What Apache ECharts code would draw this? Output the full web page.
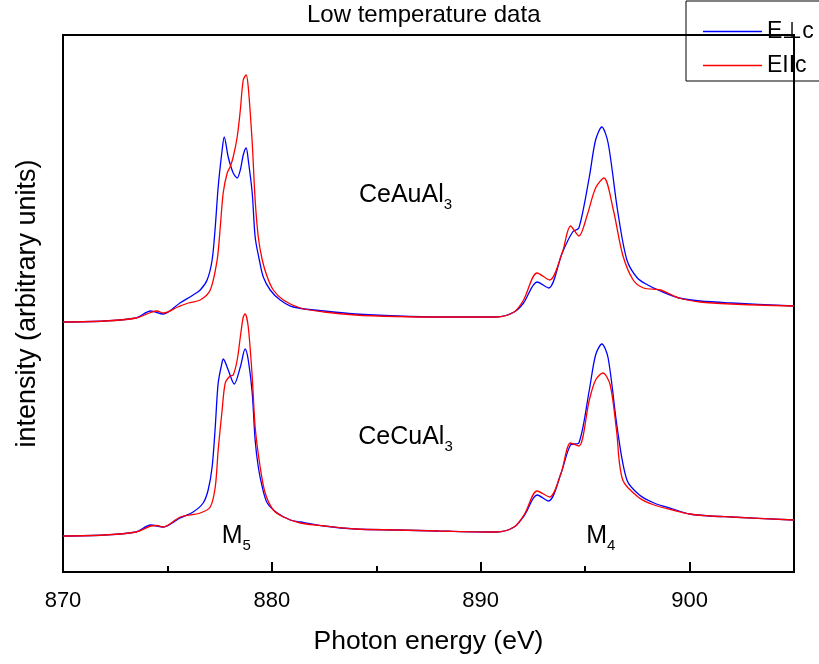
<!DOCTYPE html>
<html>
<head>
<meta charset="utf-8">
<script src="https://cdn.jsdelivr.net/npm/echarts@6/dist/echarts.min.js"></script>
<style>
  html, body { margin: 0; padding: 0; background: #fff; }
  #chart { width: 819px; height: 664px; }
</style>
</head>
<body>
<div id="chart"></div>
<script>
// photon energy (eV) and intensity (arbitrary units)
const auPerpE = [870, 872, 873.5, 874.2, 874.8, 875.6, 876.23, 876.57, 876.9, 877.14, 877.29, 877.43, 877.62, 877.72, 877.91, 878.15, 878.34, 878.49, 878.63, 878.77, 878.87, 879.06, 879.2, 879.4, 879.59, 879.92, 880.4, 881.03, 882.5, 884, 886, 888, 890, 890.75, 891.6, 892.05, 892.7, 893.25, 893.9, 894.4, 894.7, 895.2, 895.5, 895.8, 896.1, 896.55, 897.0, 897.5, 898.0, 898.6, 899.5, 900.5, 902, 905];
const auPerpI = [250, 251, 254, 261, 258, 269, 277, 282, 292, 312, 345, 385, 422, 435, 415, 399, 394, 402, 417, 424, 412, 379, 335, 312, 295, 282, 272, 265, 261, 258, 256, 255, 255, 255, 260, 269, 290, 284, 319, 340, 344, 395, 432, 445, 429, 362, 312, 294, 287, 281, 274, 271, 269, 266];

const auParE = [870, 872, 873.5, 874.2, 874.5, 874.8, 875.5, 876.0, 876.57, 877.05, 877.38, 877.53, 877.67, 877.86, 878.0, 878.15, 878.34, 878.49, 878.63, 878.77, 878.87, 879.06, 879.2, 879.35, 879.54, 879.78, 880.07, 880.55, 881.36, 882.5, 884, 886, 888, 890.75, 891.6, 892.05, 892.7, 893.3, 893.9, 894.3, 894.7, 895.1, 895.5, 895.9, 896.35, 896.8, 897.3, 897.8, 898.6, 899.5, 900.5, 902, 905];
const auParI = [250, 251, 254, 259.5, 261, 259, 265, 269, 272, 282, 312, 345, 379, 399, 405, 415, 435, 462, 492, 497, 485, 429, 372, 335, 312, 295, 282, 272, 264, 260, 257, 255.5, 255, 255, 260, 272, 299, 292, 319, 346, 336, 357, 384, 394, 362, 317, 292, 284, 282, 274, 270, 268, 266];

const cuPerpE = [870, 872, 873.5, 874.2, 874.8, 875.61, 876.23, 876.71, 876.95, 877.14, 877.29, 877.43, 877.62, 877.67, 877.91, 878.2, 878.49, 878.72, 878.87, 879.06, 879.2, 879.35, 879.54, 879.78, 880.26, 880.88, 881.36, 882.5, 884, 886, 888, 890.75, 891.6, 892.1, 892.7, 893.25, 893.85, 894.3, 894.7, 895.2, 895.5, 895.8, 896.1, 896.55, 897.0, 897.6, 898.3, 899.2, 900, 901, 902, 905];
const cuPerpI = [36, 37, 40, 47, 45, 54, 60, 69, 82, 105, 145, 189, 210, 213, 202, 188, 205, 223, 212, 179, 132, 105, 85, 69, 59, 52, 50, 46, 43, 42, 41, 40, 45, 57, 77, 71, 99, 127, 129, 182, 217, 228, 214, 142, 92, 77, 69, 63, 58, 56, 55, 52];

const cuParE = [870, 872, 873.5, 874.2, 874.5, 874.8, 875.61, 876.57, 877.05, 877.29, 877.43, 877.62, 877.77, 878.0, 878.15, 878.34, 878.49, 878.63, 878.72, 878.87, 879.06, 879.2, 879.44, 879.68, 880.07, 880.55, 881.36, 882.5, 884, 886, 888, 890.75, 891.6, 892.1, 892.7, 893.3, 893.85, 894.3, 894.7, 895.2, 895.5, 895.85, 896.2, 896.5, 896.8, 897.6, 898.3, 899.2, 900, 901, 902, 905];
const cuParI = [36, 37, 40, 46, 46.5, 45, 55, 59, 65, 85, 122, 162, 189, 196, 197, 212, 235, 255, 258, 245, 195, 145, 105, 79, 62, 55, 49, 46, 43, 42, 41, 40, 45, 58, 81, 75, 99, 129, 126, 172, 192, 199, 187, 142, 92, 74, 67, 62, 58, 56, 55, 52];

// text labels placed in data coordinates
const samples = [['CeAuAl', '3', 886.4, 377], ['CeCuAl', '3', 886.4, 135]];
const edges = [['M', '5', 878.3, 36], ['M', '4', 895.75, 36]];

const pairs = (xs, ys) => xs.map((x, i) => [x, ys[i]]);

const chart = echarts.init(document.getElementById('chart'));

const lineSeries = (name, color, data) => ({
  name,
  type: 'line',
  data,
  smooth: 0.3,
  showSymbol: false,
  silent: true,
  lineStyle: { color, width: 1.3 },
  itemStyle: { color }
});

const labelPoints = samples.concat(edges).map(([main, sub, x, y]) => ({
  coord: [x, y],
  label: {
    show: true,
    position: 'inside',
    formatter: '{a|' + main + '}{b|' + sub + '}',
    rich: {
      a: { fontSize: 25, color: '#000', lineHeight: 30 },
      b: { fontSize: 15, color: '#000', padding: [19, 0, 0, 0] }
    }
  }
}));

const auPerp = lineSeries('E\u22A5c', 'blue', pairs(auPerpE, auPerpI));
auPerp.markPoint = { symbol: 'circle', symbolSize: 0, silent: true, data: labelPoints };

chart.setOption({
  animation: false,
  textStyle: { fontFamily: 'Liberation Sans, Arial' },
  title: {
    text: 'Low temperature data',
    left: 307,
    top: 3,
    padding: 0,
    textStyle: { fontSize: 24, fontWeight: 'normal', color: '#000' }
  },
  legend: {
    orient: 'vertical',
    left: 686,
    top: 1,
    padding: [19, 40, 4, 17],
    borderColor: '#000',
    borderWidth: 1,
    itemWidth: 59,
    itemHeight: 1.5,
    itemGap: 11,
    icon: 'rect',
    textStyle: { fontSize: 23, color: '#000' },
    data: ['E\u22A5c', 'EIIc']
  },
  grid: {
    left: 63, right: 25, top: 35, bottom: 92,
    show: true, borderColor: '#000', borderWidth: 2
  },
  xAxis: {
    type: 'value',
    min: 870,
    max: 905,
    interval: 10,
    name: 'Photon energy (eV)',
    nameLocation: 'middle',
    nameGap: 56,
    nameTextStyle: { fontSize: 26.5, color: '#000' },
    axisLine: { lineStyle: { color: '#000', width: 2 } },
    axisTick: { inside: true, length: 10, lineStyle: { color: '#000', width: 2 } },
    minorTick: { show: true, splitNumber: 2, length: 6, lineStyle: { color: '#000', width: 2 } },
    axisLabel: { fontSize: 22, color: '#000', margin: 18, showMaxLabel: false },
    splitLine: { show: false }
  },
  yAxis: {
    type: 'value',
    min: 0,
    max: 537,
    name: 'intensity (arbitrary units)',
    nameLocation: 'middle',
    nameGap: 22,
    nameTextStyle: { fontSize: 27, color: '#000' },
    axisLine: { show: true, lineStyle: { color: '#000', width: 2 } },
    axisTick: { show: false },
    axisLabel: { show: false },
    splitLine: { show: false }
  },
  series: [
    auPerp,
    lineSeries('EIIc', 'red', pairs(auParE, auParI)),
    lineSeries('E\u22A5c', 'blue', pairs(cuPerpE, cuPerpI)),
    lineSeries('EIIc', 'red', pairs(cuParE, cuParI))
  ]
});
</script>
</body>
</html>
